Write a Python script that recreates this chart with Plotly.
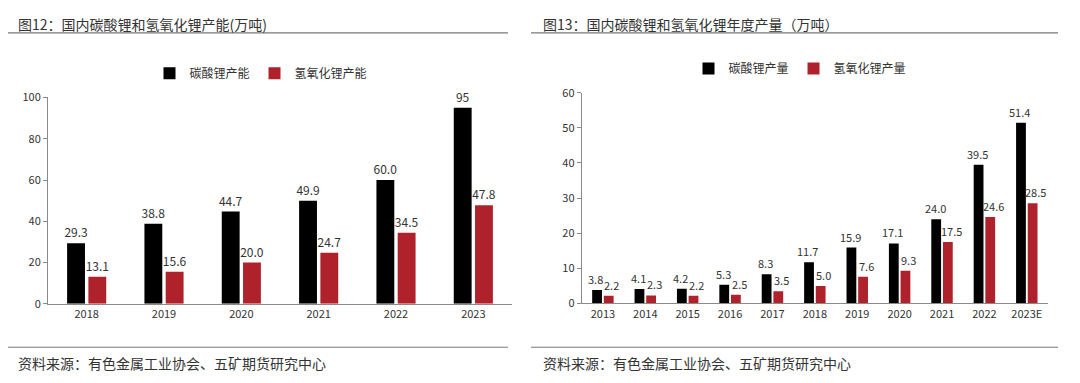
import plotly.graph_objects as go

# ---- data ----
cap_years = ["2018", "2019", "2020", "2021", "2022", "2023"]
li2co3_cap = [29.3, 38.8, 44.7, 49.9, 60.0, 95]
lioh_cap = [13.1, 15.6, 20.0, 24.7, 34.5, 47.8]
li2co3_cap_text = ["29.3", "38.8", "44.7", "49.9", "60.0", "95"]
lioh_cap_text = ["13.1", "15.6", "20.0", "24.7", "34.5", "47.8"]

prod_years = ["2013", "2014", "2015", "2016", "2017", "2018", "2019", "2020", "2021", "2022", "2023E"]
li2co3_prod = [3.8, 4.1, 4.2, 5.3, 8.3, 11.7, 15.9, 17.1, 24.0, 39.5, 51.4]
lioh_prod = [2.2, 2.3, 2.2, 2.5, 3.5, 5.0, 7.6, 9.3, 17.5, 24.6, 28.5]

left_title = "图12：国内碳酸锂和氢氧化锂产能(万吨)"
right_title = "图13：国内碳酸锂和氢氧化锂年度产量（万吨）"
source = "资料来源：有色金属工业协会、五矿期货研究中心"

BLACK = "#000000"
RED = "#B0222B"
TXT = "#333333"
FONT = "Noto Sans CJK SC"

W, H = 1080, 383

def px(x):
    return x / W

def py(y):
    return 1 - y / H

fig = go.Figure()

def bar(xs, ys, texts, name, color, xa, ya, lg, pos):
    return go.Bar(x=xs, y=ys, name=name, marker_color=color, marker_line_width=0,
                  text=texts, textposition=pos, cliponaxis=False, constraintext="none",
                  textfont=dict(size=12, color=TXT, family=FONT),
                  xaxis=xa, yaxis=ya, legend=lg)

fig.add_trace(bar(cap_years, li2co3_cap, li2co3_cap_text, "碳酸锂产能", BLACK, "x", "y", "legend", "outside"))
fig.add_trace(bar(cap_years, lioh_cap, lioh_cap_text, "氢氧化锂产能", RED, "x", "y", "legend", "outside"))
fig.add_trace(bar(prod_years, li2co3_prod, None, "碳酸锂产量", BLACK, "x2", "y2", "legend2", "none"))
fig.add_trace(bar(prod_years, lioh_prod, None, "氢氧化锂产量", RED, "x2", "y2", "legend2", "none"))

# value labels for the production chart, placed at the data values via the axis scales
# (category axis: x is the category's serial index)
for i, v in enumerate(li2co3_prod):
    fig.add_annotation(x=i, y=v, xref="x2", yref="y2", text=f"{v:.1f}", showarrow=False,
                       xanchor="center", yanchor="bottom", xshift=-7, yshift=1,
                       font=dict(size=11, color=TXT, family=FONT))
for i, v in enumerate(lioh_prod):
    fig.add_annotation(x=i, y=v, xref="x2", yref="y2", text=f"{v:.1f}", showarrow=False,
                       xanchor="center", yanchor="bottom", xshift=9, yshift=1,
                       font=dict(size=11, color=TXT, family=FONT))

axis_common = dict(showgrid=False, zeroline=False, showline=True, linecolor="#8a8a8a", linewidth=1,
                   tickfont=dict(size=11, color=TXT, family=FONT))

fig.update_layout(
    width=W, height=H,
    margin=dict(l=0, r=0, t=0, b=0),
    paper_bgcolor="white", plot_bgcolor="white",
    font=dict(family=FONT, color=TXT),
    barmode="group", bargap=0.45, bargroupgap=0.16,
    showlegend=True,
    xaxis=dict(type="category", domain=[px(48), px(512)], range=[-0.5, len(cap_years) - 0.5],
               ticks="", anchor="y", **axis_common),
    yaxis=dict(domain=[py(307.7), py(92.3)], range=[0, 100], dtick=20, ticks="outside",
               ticklen=4, tickcolor="#8a8a8a", anchor="x", **axis_common),
    xaxis2=dict(type="category", domain=[px(581.7), px(1048)], range=[-0.5, len(prod_years) - 0.5],
                ticks="", anchor="y2", **axis_common),
    yaxis2=dict(domain=[py(307.3), py(87.3)], range=[0, 60], dtick=10, ticks="outside",
                ticklen=4, tickcolor="#8a8a8a", anchor="x2", **axis_common),
    legend=dict(orientation="h", x=px(261), y=py(67), xanchor="center", yanchor="middle",
                font=dict(size=12, color=TXT), itemwidth=30, itemsizing="constant",
                bgcolor="rgba(0,0,0,0)"),
    legend2=dict(orientation="h", x=px(800), y=py(62), xanchor="center", yanchor="middle",
                 font=dict(size=12, color=TXT), itemwidth=30, itemsizing="constant",
                 bgcolor="rgba(0,0,0,0)"),
)

# titles, rules, sources
for x0, txt in [(16, left_title), (541, right_title)]:
    fig.add_annotation(x=px(x0), y=py(16), xref="paper", yref="paper", text=txt, showarrow=False,
                       xanchor="left", yanchor="middle", font=dict(size=14, color=TXT, family=FONT))
for x0, txt in [(16, source), (541, source)]:
    fig.add_annotation(x=px(x0), y=py(369), xref="paper", yref="paper", text=txt, showarrow=False,
                       xanchor="left", yanchor="middle", font=dict(size=14, color=TXT, family=FONT))
for (x0, x1) in [(8, 508), (531, 1058)]:
    for yy in [25, 353]:
        fig.add_shape(type="line", xref="paper", yref="paper", x0=px(x0), x1=px(x1), y0=py(yy), y1=py(yy),
                      line=dict(color="#7a7a7a", width=1.2))

fig.write_html("out.html", config={"displayModeBar": False},
               post_script="document.body.style.margin='0';document.body.style.overflow='hidden';")
